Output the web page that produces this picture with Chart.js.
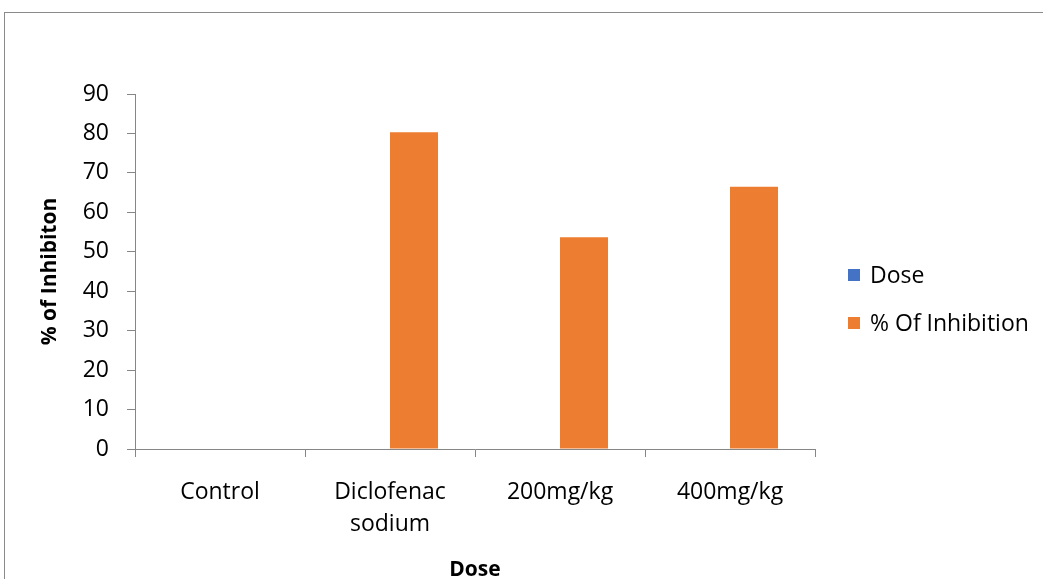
<!DOCTYPE html>
<html>
<head>
<meta charset="utf-8">
<title>% of Inhibition by Dose</title>
<script src="https://cdn.jsdelivr.net/npm/chart.js@4.4.1/dist/chart.umd.min.js"></script>
<style>
  html, body { margin: 0; padding: 0; background: #ffffff; overflow: hidden; }
  #wrap { position: relative; width: 1043px; height: 579px; }
  #frame {
    position: absolute; left: 4px; top: 12px; width: 1100px; height: 700px;
    border: 1px solid #8a8a8a; box-sizing: border-box; pointer-events: none;
  }
  canvas { position: absolute; left: 0; top: 0; }
</style>
</head>
<body>
<div id="wrap">
  <canvas id="chart" width="1043" height="579"></canvas>
  <div id="frame"></div>
</div>
<script>
// Treatment groups along the x axis
const categories = ['Control', ['Diclofenac', 'sodium'], '200mg/kg', '400mg/kg'];

// Series values
const doseValues = [null, null, null, null];
const inhibitionValues = [0, 80.3, 53.7, 66.5];

// Value axis range
const yMin = 0;
const yMax = 90;
const yStep = 10;

const seriesNames = ['Dose', '% Of Inhibition'];
const seriesColors = ['#4472C4', '#ED7D31'];

const FONT = '"Open Sans", "Liberation Sans", sans-serif';
const AXIS_COLOR = '#868686';

// Legend drawn at the right of the plot from the dataset labels and colours
const sideLegend = {
  id: 'sideLegend',
  afterDraw(chart) {
    const { ctx } = chart;
    const x = chart.chartArea.right + 33;
    const y0 = 275;
    const rowGap = 48;
    const box = 12;
    ctx.save();
    ctx.font = '23px ' + FONT;
    ctx.textBaseline = 'middle';
    ctx.textAlign = 'left';
    chart.data.datasets.forEach((ds, i) => {
      const cy = y0 + i * rowGap;
      ctx.fillStyle = ds.backgroundColor;
      ctx.fillRect(x, cy - box / 2, box, box);
      ctx.fillStyle = '#000000';
      ctx.fillText(ds.label, x + box + 10, cy + 1.5);
    });
    ctx.restore();
  }
};

new Chart(document.getElementById('chart'), {
  type: 'bar',
  data: {
    labels: categories,
    datasets: [
      {
        label: seriesNames[0],
        data: doseValues,
        backgroundColor: seriesColors[0],
        borderWidth: 0,
        barPercentage: 1,
        categoryPercentage: 0.565
      },
      {
        label: seriesNames[1],
        data: inhibitionValues,
        backgroundColor: seriesColors[1],
        borderWidth: 0,
        barPercentage: 1,
        categoryPercentage: 0.565
      }
    ]
  },
  options: {
    responsive: false,
    animation: false,
    devicePixelRatio: 1,
    layout: { padding: { left: 10, right: 228, top: 94, bottom: 0 } },
    plugins: {
      legend: { display: false },
      tooltip: { enabled: false }
    },
    scales: {
      x: {
        grid: {
          display: true,
          drawOnChartArea: false,
          drawTicks: true,
          tickLength: 8,
          color: AXIS_COLOR,
          offset: true
        },
        border: { display: true, color: AXIS_COLOR, width: 1 },
        ticks: {
          color: '#000000',
          padding: 19,
          maxRotation: 0,
          autoSkip: false,
          font: { family: FONT, size: 23, lineHeight: 1.4 }
        },
        title: {
          display: true,
          text: 'Dose',
          color: '#000000',
          font: { family: FONT, size: 21, weight: 'bold', lineHeight: '18px' },
          padding: { top: 0, bottom: 0 }
        },
        afterFit(scale) { scale.height = 130; }
      },
      y: {
        min: yMin,
        max: yMax,
        grid: {
          display: true,
          drawOnChartArea: false,
          drawTicks: true,
          tickLength: 8,
          color: AXIS_COLOR
        },
        border: { display: true, color: AXIS_COLOR, width: 1 },
        ticks: {
          stepSize: yStep,
          color: '#000000',
          padding: 18,
          font: { family: FONT, size: 23 }
        },
        title: {
          display: true,
          text: '% of Inhibiton',
          color: '#000000',
          font: { family: FONT, size: 21, weight: 'bold', lineHeight: '24px' },
          padding: { top: 28, bottom: 0 }
        },
        afterFit(scale) { scale.width = 125; }
      }
    }
  },
  plugins: [sideLegend]
});
</script>
</body>
</html>
